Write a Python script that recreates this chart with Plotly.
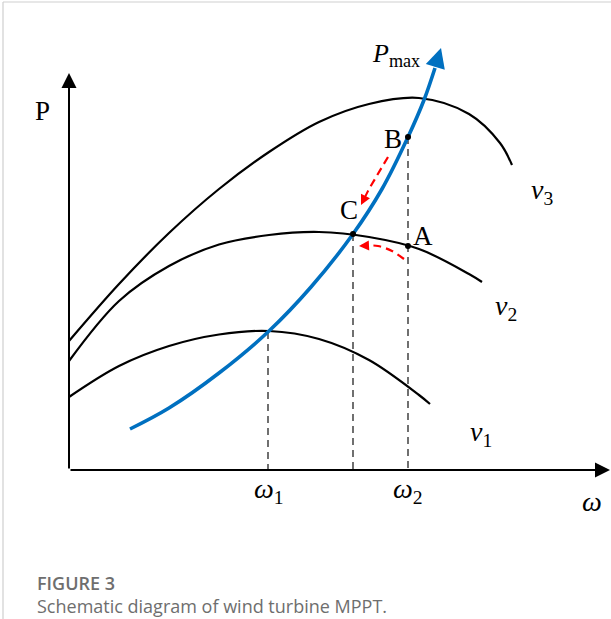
import plotly.graph_objects as go

# Schematic power curves P(omega) for three wind speeds v1 < v2 < v3
v1_omega = [0.00, 0.50, 1.00, 1.50, 2.00, 2.50, 3.00, 3.50, 3.61]
v1_power = [0.73, 1.04, 1.24, 1.355, 1.39, 1.31, 1.10, 0.75, 0.66]

v2_omega = [0.00, 0.50, 1.00, 1.50, 2.00, 2.50, 3.00, 3.50, 4.00, 4.13]
v2_power = [1.09, 1.69, 2.04, 2.255, 2.35, 2.38, 2.33, 2.21, 1.96, 1.88]

v3_omega = [0.00, 0.50, 1.00, 1.50, 2.00, 2.50, 3.00, 3.50, 4.00, 4.31, 4.43]
v3_power = [1.29, 1.86, 2.37, 2.81, 3.18, 3.48, 3.66, 3.72, 3.56, 3.27, 3.05]

# Maximum power point tracking curve
pmax_omega = [0.61, 1.00, 1.50, 2.00, 2.42, 2.84, 3.13, 3.39, 3.55, 3.66]
pmax_power = [0.41, 0.62, 0.97, 1.39, 1.83, 2.36, 2.81, 3.33, 3.70, 4.02]
pmax_tip = (3.72, 4.22)

# Operating points
point_labels = ["A", "B", "C"]
point_omega = [3.39, 3.39, 2.84]
point_power = [2.24, 3.33, 2.36]

# Drop lines to the omega axis
drop_omega = [1.99, 2.84, 3.39]
drop_power = [1.38, 2.36, 3.33]

# Red transition paths B -> C and A -> C
path_bc_omega = [3.19, 3.00]
path_bc_power = [3.13, 2.81]
head_bc = ((3.00, 2.81), (2.92, 2.65))
path_ac_omega = [3.35, 3.23, 3.09, 3.00]
path_ac_power = [2.11, 2.19, 2.24, 2.245]
head_ac = ((3.00, 2.245), (2.90, 2.24))

axis_omega_end = 5.41
axis_power_end = 3.97

BLACK = "#000000"
BLUE = "#0070C0"
RED = "#FF0000"
SERIF = "Liberation Serif"


def ital(s):
    return '<span style="font-style:italic">' + s + "</span>"


fig = go.Figure()

for xs, ys in [(v1_omega, v1_power), (v2_omega, v2_power), (v3_omega, v3_power)]:
    fig.add_trace(go.Scatter(x=xs, y=ys, mode="lines",
                             line=dict(color=BLACK, width=2.2, shape="spline"),
                             hoverinfo="skip"))

for w, p in zip(drop_omega, drop_power):
    fig.add_trace(go.Scatter(x=[w, w], y=[p, 0], mode="lines",
                             line=dict(color="#111111", width=1.2, dash="7px,5px"),
                             hoverinfo="skip"))

fig.add_trace(go.Scatter(x=pmax_omega, y=pmax_power, mode="lines",
                         line=dict(color=BLUE, width=3.6, shape="spline"),
                         hoverinfo="skip"))

fig.add_trace(go.Scatter(x=path_bc_omega, y=path_bc_power, mode="lines",
                         line=dict(color=RED, width=2.2, dash="8px,5px"),
                         hoverinfo="skip"))
fig.add_trace(go.Scatter(x=path_ac_omega, y=path_ac_power, mode="lines",
                         line=dict(color=RED, width=2.2, dash="8px,5px", shape="spline"),
                         hoverinfo="skip"))

fig.add_trace(go.Scatter(x=point_omega, y=point_power, mode="markers",
                         marker=dict(color=BLACK, size=6), hoverinfo="skip"))

# Arrows: axes, Pmax curve head and red path heads
arrows = [
    ((0, 0), (axis_omega_end, 0), BLACK, 2.0, 1.5),
    ((0, 0), (0, axis_power_end), BLACK, 2.0, 1.5),
    ((pmax_omega[-1], pmax_power[-1]), pmax_tip, BLUE, 3.6, 1.1),
    (head_bc[0], head_bc[1], RED, 2.0, 1.0),
    (head_ac[0], head_ac[1], RED, 2.0, 1.0),
]
for (x0, y0), (x1, y1), col, w, s in arrows:
    fig.add_annotation(x=x1, y=y1, ax=x0, ay=y0, xref="x", yref="y",
                       axref="x", ayref="y", text="", showarrow=True,
                       arrowhead=2, arrowsize=s, arrowwidth=w,
                       arrowcolor=col, standoff=0, startstandoff=0)

labels = [
    ("P", -0.27, 3.59, 27),
    (ital("P") + "<sub>max</sub>", 3.27, 4.15, 26),
    ("B", 3.24, 3.31, 27),
    ("C", 2.80, 2.60, 27),
    ("A", 3.54, 2.34, 27),
    (ital("v") + "<sub>3</sub>", 4.73, 2.79, 28),
    (ital("v") + "<sub>2</sub>", 4.37, 1.63, 28),
    (ital("v") + "<sub>1</sub>", 4.12, 0.37, 28),
    (ital("ω") + "<sub>1</sub>", 2.00, -0.20, 28),
    (ital("ω") + "<sub>2</sub>", 3.39, -0.20, 28),
    (ital("ω"), 5.23, -0.31, 28),
]
for txt, x, y, sz in labels:
    fig.add_annotation(x=x, y=y, xref="x", yref="y", text=txt, showarrow=False,
                       font=dict(family=SERIF, size=sz, color=BLACK))

# Caption
fig.add_annotation(x=35 / 611, y=1 - 583 / 619, xref="paper", yref="paper",
                   xanchor="left", yanchor="middle", showarrow=False,
                   text="FIGURE 3",
                   font=dict(family="Open Sans", size=18, color="#6e6e6e", weight=600))
fig.add_annotation(x=35 / 611, y=1 - 606 / 619, xref="paper", yref="paper",
                   xanchor="left", yanchor="middle", showarrow=False,
                   text="Schematic diagram of wind turbine MPPT.",
                   font=dict(family="Open Sans", size=18, color="#6e6e6e"))

# Panel frame
fig.add_shape(type="line", xref="paper", yref="paper",
              x0=3 / 611, x1=1, y0=1 - 2 / 619, y1=1 - 2 / 619,
              line=dict(color="#cfcfcf", width=1.2))
fig.add_shape(type="line", xref="paper", yref="paper",
              x0=3 / 611, x1=3 / 611, y0=0, y1=1 - 2 / 619,
              line=dict(color="#cfcfcf", width=1.2))

fig.update_layout(
    width=611, height=619,
    margin=dict(l=0, r=0, t=0, b=0),
    paper_bgcolor="white", plot_bgcolor="white",
    showlegend=False,
    xaxis=dict(range=[-0.69, 5.42], visible=False, fixedrange=True),
    yaxis=dict(range=[-1.49, 4.70], visible=False, fixedrange=True),
)

fig.write_html("out.html")
